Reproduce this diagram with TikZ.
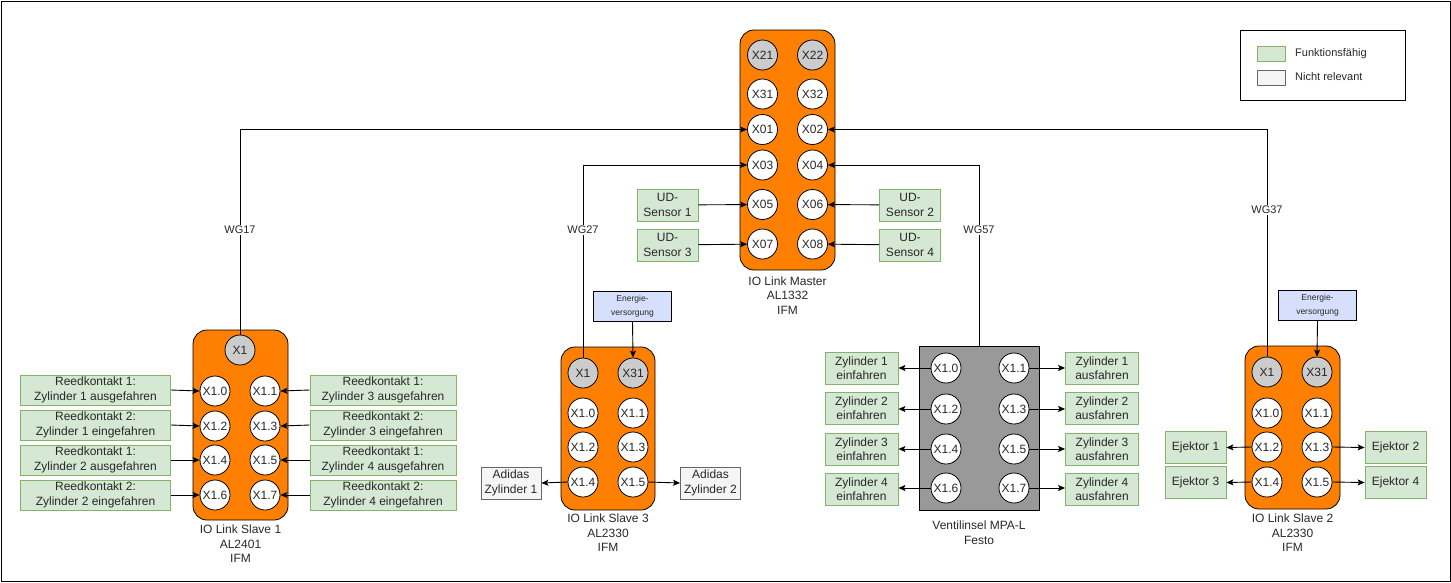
\documentclass[tikz,border=0pt]{standalone}
\usepackage{fontspec}
\setmainfont{Liberation Sans}
\usetikzlibrary{arrows.meta}
\definecolor{orangefill}{RGB}{255,128,0}
\definecolor{greenfill}{RGB}{213,232,212}
\definecolor{greenstroke}{RGB}{130,179,102}
\definecolor{grayfill}{RGB}{245,245,245}
\definecolor{graystroke}{RGB}{102,102,102}
\definecolor{portgray}{RGB}{204,204,204}
\definecolor{bluefill}{RGB}{214,224,252}
\definecolor{ventilgray}{RGB}{153,153,153}
\definecolor{txt}{RGB}{40,40,40}
\tikzset{
  every node/.style={text=txt},
  f12/.style={font=\fontsize{12}{14.4}\selectfont},
  device/.style={draw=black, fill=orangefill, rounded corners=14pt, line width=0.8pt, minimum width=#1, inner sep=0},
  port/.style={circle, draw=black, fill=white, minimum size=30pt, inner sep=0, line width=0.8pt, f12},
  gport/.style={port, fill=portgray},
  gbox/.style={draw=greenstroke, fill=greenfill, line width=0.8pt, align=center, inner sep=0, f12},
  nbox/.style={draw=graystroke, fill=grayfill, line width=0.8pt, align=center, inner sep=0, f12},
  ebox/.style={draw=black, fill=bluefill, line width=0.8pt, align=center, inner sep=0, font=\fontsize{8.5}{14}\selectfont, minimum width=78pt, minimum height=30pt},
  conn/.style={-{Stealth[length=7pt,width=6pt,inset=1.5pt]}, line width=0.9pt},
  wire/.style={line width=0.9pt},
  wlabel/.style={fill=white, inner sep=1pt, font=\fontsize{11}{13}\selectfont},
  caption/.style={align=center, f12},
}
\begin{document}
\begin{tikzpicture}[x=1pt,y=-1pt]
\useasboundingbox (0,0) rectangle (1451,582);
\draw[line width=1pt] (1,1) rectangle (1450,581);

% ---------- device bodies ----------
\node[device=95pt, minimum height=240pt] (master) at (787.5,150) {};
\node[device=95pt, minimum height=190pt] (slave1) at (240.5,425) {};
\node[device=94pt, minimum height=163pt] (slave3) at (608,428.5) {};
\node[draw=black, fill=ventilgray, line width=0.8pt, minimum width=120pt, minimum height=164pt, inner sep=0] (ventil) at (979,428) {};
\node[device=95pt, minimum height=163pt] (slave2) at (1292.5,427.5) {};

% ---------- captions ----------
\node[caption] (mcap) at (787.5,295.5) {IO Link Master\\AL1332\\IFM};
\node[caption] (s1cap) at (240.5,544) {IO Link Slave 1\\AL2401\\IFM};
\node[caption] (s3cap) at (608,533) {IO Link Slave 3\\AL2330\\IFM};
\node[caption] (vcap) at (979,532.5) {Ventilinsel MPA-L\\Festo};
\node[caption] (s2cap) at (1292.5,533) {IO Link Slave 2\\AL2330\\IFM};

% ---------- legend ----------
\node[draw=black, line width=0.8pt, minimum width=165pt, minimum height=70pt, inner sep=0] (legend) at (1322.5,65) {};
\node[draw=greenstroke, fill=greenfill, minimum width=28pt, minimum height=15pt, inner sep=0] (lg1) at (1271,53.5) {};
\node[draw=graystroke, fill=grayfill, minimum width=28pt, minimum height=15pt, inner sep=0] (lg2) at (1271,77.5) {};
\node[anchor=west, inner sep=0, font=\fontsize{11}{13}\selectfont] (lt1) at (1295,54) {Funktionsfähig};
\node[anchor=west, inner sep=0, font=\fontsize{11}{13}\selectfont] (lt2) at (1295,77) {Nicht relevant};

% ---------- external boxes ----------
\node[gbox, minimum width=61pt, minimum height=32pt] (ud1) at (667.5,205) {UD-\\Sensor 1};
\node[gbox, minimum width=61pt, minimum height=32pt] (ud3) at (667.5,245) {UD-\\Sensor 3};
\node[gbox, minimum width=61pt, minimum height=32pt] (ud2) at (910,205) {UD-\\Sensor 2};
\node[gbox, minimum width=61pt, minimum height=32pt] (ud4) at (910,245) {UD-\\Sensor 4};

\node[gbox, minimum width=150pt, minimum height=30pt] (r10) at (95.5,390) {Reedkontakt 1:\\Zylinder 1 ausgefahren};
\node[gbox, minimum width=150pt, minimum height=30pt] (r12) at (95.5,425) {Reedkontakt 2:\\Zylinder 1 eingefahren};
\node[gbox, minimum width=150pt, minimum height=30pt] (r14) at (95.5,460) {Reedkontakt 1:\\Zylinder 2 ausgefahren};
\node[gbox, minimum width=150pt, minimum height=30pt] (r16) at (95.5,495) {Reedkontakt 2:\\Zylinder 2 eingefahren};
\node[gbox, minimum width=146pt, minimum height=30pt] (r11) at (383,390) {Reedkontakt 1:\\Zylinder 3 ausgefahren};
\node[gbox, minimum width=146pt, minimum height=30pt] (r13) at (383,425) {Reedkontakt 2:\\Zylinder 3 eingefahren};
\node[gbox, minimum width=146pt, minimum height=30pt] (r15) at (383,460) {Reedkontakt 1:\\Zylinder 4 ausgefahren};
\node[gbox, minimum width=146pt, minimum height=30pt] (r17) at (383,495) {Reedkontakt 2:\\Zylinder 4 eingefahren};

\node[ebox] (e3) at (632.5,306) {Energie-\\versorgung};
\node[nbox, minimum width=60pt, minimum height=32pt] (ad1) at (511,483) {Adidas\\Zylinder 1};
\node[nbox, minimum width=60pt, minimum height=32pt] (ad2) at (710.5,483) {Adidas\\Zylinder 2};

\node[gbox, minimum width=73pt, minimum height=32pt] (z1e) at (861.5,368.5) {Zylinder 1\\einfahren};
\node[gbox, minimum width=73pt, minimum height=32pt] (z2e) at (861.5,408) {Zylinder 2\\einfahren};
\node[gbox, minimum width=73pt, minimum height=32pt] (z3e) at (861.5,449) {Zylinder 3\\einfahren};
\node[gbox, minimum width=73pt, minimum height=32pt] (z4e) at (861.5,489) {Zylinder 4\\einfahren};
\node[gbox, minimum width=73pt, minimum height=32pt] (z1a) at (1102,368.5) {Zylinder 1\\ausfahren};
\node[gbox, minimum width=73pt, minimum height=32pt] (z2a) at (1102,408) {Zylinder 2\\ausfahren};
\node[gbox, minimum width=73pt, minimum height=32pt] (z3a) at (1102,449) {Zylinder 3\\ausfahren};
\node[gbox, minimum width=73pt, minimum height=32pt] (z4a) at (1102,489) {Zylinder 4\\ausfahren};

\node[ebox] (e2) at (1317.5,305.5) {Energie-\\versorgung};
\node[gbox, minimum width=61pt, minimum height=32pt] (ej1) at (1195.5,447.5) {Ejektor 1};
\node[gbox, minimum width=61pt, minimum height=32pt] (ej3) at (1195.5,482.5) {Ejektor 3};
\node[gbox, minimum width=61pt, minimum height=32pt] (ej2) at (1395.5,447.5) {Ejektor 2};
\node[gbox, minimum width=61pt, minimum height=32pt] (ej4) at (1395.5,482.5) {Ejektor 4};

% ---------- ports ----------
% master
\node[gport] (m21) at (762.5,55) {X21};
\node[gport] (m22) at (812.5,55) {X22};
\node[port] (m31) at (762.5,94) {X31};
\node[port] (m32) at (812.5,94) {X32};
\node[port] (m01) at (762.5,129.5) {X01};
\node[port] (m02) at (812.5,129.5) {X02};
\node[port] (m03) at (762.5,165) {X03};
\node[port] (m04) at (812.5,165) {X04};
\node[port] (m05) at (762.5,204.5) {X05};
\node[port] (m06) at (812.5,204.5) {X06};
\node[port] (m07) at (762.5,244) {X07};
\node[port] (m08) at (812.5,244) {X08};
% slave 1
\node[gport] (s1x1) at (240,350) {X1};
\node[port] (s1p0) at (215,391) {X1.0};
\node[port] (s1p1) at (265,391) {X1.1};
\node[port] (s1p2) at (215,426) {X1.2};
\node[port] (s1p3) at (265,426) {X1.3};
\node[port] (s1p4) at (215,460) {X1.4};
\node[port] (s1p5) at (265,460) {X1.5};
\node[port] (s1p6) at (215,495) {X1.6};
\node[port] (s1p7) at (265,495) {X1.7};
% slave 3
\node[gport] (s3x1) at (583,373) {X1};
\node[gport] (s3x31) at (633,373) {X31};
\node[port] (s3p0) at (583,413) {X1.0};
\node[port] (s3p1) at (633,413) {X1.1};
\node[port] (s3p2) at (583,447) {X1.2};
\node[port] (s3p3) at (633,447) {X1.3};
\node[port] (s3p4) at (583,482) {X1.4};
\node[port] (s3p5) at (633,482) {X1.5};
% ventilinsel
\node[port] (vp0) at (946,368) {X1.0};
\node[port] (vp1) at (1014,368) {X1.1};
\node[port] (vp2) at (946,409) {X1.2};
\node[port] (vp3) at (1014,409) {X1.3};
\node[port] (vp4) at (946,449) {X1.4};
\node[port] (vp5) at (1014,449) {X1.5};
\node[port] (vp6) at (946,488) {X1.6};
\node[port] (vp7) at (1014,488) {X1.7};
% slave 2
\node[gport] (s2x1) at (1267,372) {X1};
\node[gport] (s2x31) at (1317,372) {X31};
\node[port] (s2p0) at (1267,413) {X1.0};
\node[port] (s2p1) at (1317,413) {X1.1};
\node[port] (s2p2) at (1267,447) {X1.2};
\node[port] (s2p3) at (1317,447) {X1.3};
\node[port] (s2p4) at (1267,482) {X1.4};
\node[port] (s2p5) at (1317,482) {X1.5};

% ---------- connectors ----------
\draw[conn] (s1x1.north) |- (m01.west);
\draw[conn] (s3x1.north) |- (m03.west);
\draw[conn] (ventil.north) |- (m04.east);
\draw[conn] (s2x1.north) |- (m02.east);
\node[wlabel] (wg17) at (240,230) {WG17};
\node[wlabel] (wg27) at (583,230) {WG27};
\node[wlabel] (wg57) at (979,230) {WG57};
\node[wlabel] (wg37) at (1267,210) {WG37};

\draw[conn] (ud1) -- (m05);
\draw[conn] (ud3) -- (m07);
\draw[conn] (ud2) -- (m06);
\draw[conn] (ud4) -- (m08);

\draw[conn] (r10.east) -- (s1p0.west);
\draw[conn] (r12.east) -- (s1p2.west);
\draw[conn] (r14.east) -- (s1p4.west);
\draw[conn] (r16.east) -- (s1p6.west);
\draw[conn] (r11.west) -- (s1p1.east);
\draw[conn] (r13.west) -- (s1p3.east);
\draw[conn] (r15.west) -- (s1p5.east);
\draw[conn] (r17.west) -- (s1p7.east);

\draw[conn] (e3.south) -- (s3x31.north);
\draw[conn] (s3p4.west) -- (ad1.east);
\draw[conn] (s3p5.east) -- (ad2.west);

\draw[conn] (vp0.west) -- (z1e.east |- vp0.west);
\draw[conn] (vp2.west) -- (z2e.east |- vp2.west);
\draw[conn] (vp4.west) -- (z3e.east |- vp4.west);
\draw[conn] (vp6.west) -- (z4e.east |- vp6.west);
\draw[conn] (vp1.east) -- (z1a.west |- vp1.east);
\draw[conn] (vp3.east) -- (z2a.west |- vp3.east);
\draw[conn] (vp5.east) -- (z3a.west |- vp5.east);
\draw[conn] (vp7.east) -- (z4a.west |- vp7.east);

\draw[conn] (e2.south) -- (s2x31.north);
\draw[conn] (s2p2.west) -- (ej1.east);
\draw[conn] (s2p4.west) -- (ej3.east);
\draw[conn] (s2p3.east) -- (ej2.west);
\draw[conn] (s2p5.east) -- (ej4.west);
\end{tikzpicture}
\end{document}
